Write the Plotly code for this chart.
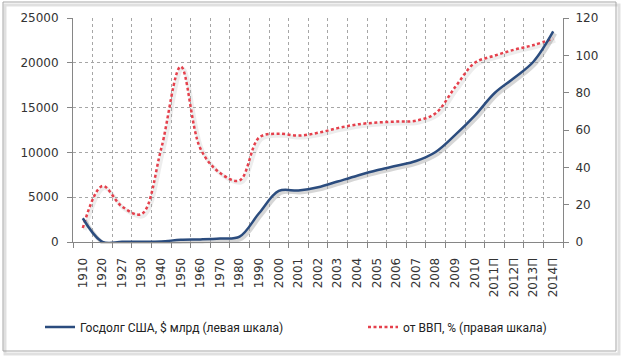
import plotly.graph_objects as go

categories = ["1910", "1920", "1927", "1930", "1940", "1950", "1960", "1970", "1980",
              "1990", "2000", "2001", "2002", "2003", "2004", "2005", "2006", "2007",
              "2008", "2009", "2010", "2011П", "2012П", "2013П", "2014П"]
debt_bn = [2650, 26, 18, 16, 51, 257, 291, 381, 600, 3233, 5700, 5750, 6100, 6750,
           7400, 8000, 8500, 9040, 10050, 11950, 14100, 16600, 18300, 20150, 23500]
debt_pct_gdp = [7.5, 30, 19, 15, 50, 94, 50, 37, 33, 56, 58, 57, 58.5, 61, 63, 64,
                64.5, 65, 69, 83, 96, 99.8, 103, 105.5, 109]
left_ticks = [0, 5000, 10000, 15000, 20000, 25000]
right_ticks = [0, 20, 40, 60, 80, 100, 120]

W, H = 623, 357
ML, MR, MT, MB = 73, 58, 18, 113
PW, PH = W - ML - MR, H - MT - MB
SH = 2  # shadow offset px
XR = [-0.5, len(categories) - 0.5]

BLUE = "#2b4c7e"
RED = "#e5404c"
AXC = "#868686"
FONT = "DejaVu Sans"

fig = go.Figure()
# shadows
fig.add_trace(go.Scatter(x=categories, y=debt_bn, xaxis="x", yaxis="y", mode="lines",
                         line=dict(color="rgba(0,0,0,0.16)", width=4, shape="spline", smoothing=1),
                         showlegend=False, hoverinfo="skip"))
fig.add_trace(go.Scatter(x=categories, y=debt_pct_gdp, xaxis="x", yaxis="y2", mode="lines",
                         line=dict(color="rgba(0,0,0,0.07)", width=4, shape="spline", smoothing=1),
                         showlegend=False, hoverinfo="skip"))
# main
fig.add_trace(go.Scatter(x=categories, y=debt_bn, xaxis="x2", yaxis="y4", mode="lines",
                         name="Госдолг США, $ млрд (левая шкала)", legend="legend",
                         line=dict(color=BLUE, width=2.5, shape="spline", smoothing=1)))
fig.add_trace(go.Scatter(x=categories, y=debt_pct_gdp, xaxis="x2", yaxis="y3", mode="lines",
                         name="от ВВП, % (правая шкала)", legend="legend2",
                         line=dict(color=RED, width=2.5, dash="3px,2.5px", shape="spline", smoothing=1)))

tickfont = dict(family=FONT, size=12, color="#333333")
legfont = dict(family="Roboto", size=12, color="#222222")

fig.update_layout(
    width=W, height=H,
    font=dict(family=FONT, size=12, color="#333333"),
    margin=dict(l=ML, r=MR, t=MT, b=MB, autoexpand=False),
    paper_bgcolor="white", plot_bgcolor="rgba(0,0,0,0)",
    xaxis=dict(type="category", visible=False, domain=[SH / PW, 1], anchor="y",
               categoryorder="array", categoryarray=categories, range=XR),
    yaxis=dict(visible=False, range=[0, 25000], domain=[0, 1 - SH / PH], anchor="x"),
    yaxis2=dict(visible=False, range=[0, 120], overlaying="y", anchor="x"),
    xaxis2=dict(type="category", domain=[0, 1 - SH / PW], anchor="y3",
                categoryorder="array", categoryarray=categories, range=XR,
                tickson="boundaries", ticks="outside", ticklen=5, tickcolor=AXC,
                showline=True, linecolor=AXC, linewidth=1,
                showgrid=True, gridcolor="#a6a6a6", griddash="dot", gridwidth=1,
                tickangle=-90, tickfont=tickfont, ticklabelstandoff=10),
    yaxis3=dict(range=[0, 120], tickvals=right_ticks, ticktext=[str(v) for v in right_ticks],
                side="right", anchor="x2",
                domain=[SH / PH, 1], showgrid=False, zeroline=False,
                ticks="outside", ticklen=5, tickcolor=AXC,
                showline=True, linecolor=AXC, linewidth=1,
                tickfont=tickfont, ticklabelstandoff=4),
    yaxis4=dict(range=[0, 25000], tickvals=left_ticks, ticktext=[str(v) for v in left_ticks],
                side="left", anchor="x2",
                overlaying="y3", showgrid=True, gridcolor="#a6a6a6", griddash="dot",
                gridwidth=1, zeroline=False,
                ticks="outside", ticklen=5, tickcolor=AXC,
                showline=True, linecolor=AXC, linewidth=1,
                tickfont=tickfont, ticklabelstandoff=6),
    legend=dict(orientation="h", xref="container", yref="container",
                x=40 / W, y=1 - 327 / H, xanchor="left", yanchor="middle",
                font=legfont, bgcolor="rgba(0,0,0,0)"),
    legend2=dict(orientation="h", xref="container", yref="container",
                 x=363 / W, y=1 - 327 / H, xanchor="left", yanchor="middle",
                 font=legfont, bgcolor="rgba(0,0,0,0)"),
)

# outer frame with shadow
def px_x(p):
    return (p - ML) / PW

def px_y(p):
    return (MT + PH - p) / PH

fig.add_shape(type="rect", xref="paper", yref="paper",
              x0=px_x(5), x1=px_x(619), y0=px_y(354), y1=px_y(5),
              line=dict(color="rgba(0,0,0,0.12)", width=3), layer="below")
fig.add_shape(type="rect", xref="paper", yref="paper",
              x0=px_x(3), x1=px_x(616), y0=px_y(351), y1=px_y(2),
              line=dict(color="#a6a6a6", width=1), layer="below")

fig.write_html("out.html", config={"displayModeBar": False},
               post_script="document.body.style.margin='0';document.body.style.overflow='hidden';")
